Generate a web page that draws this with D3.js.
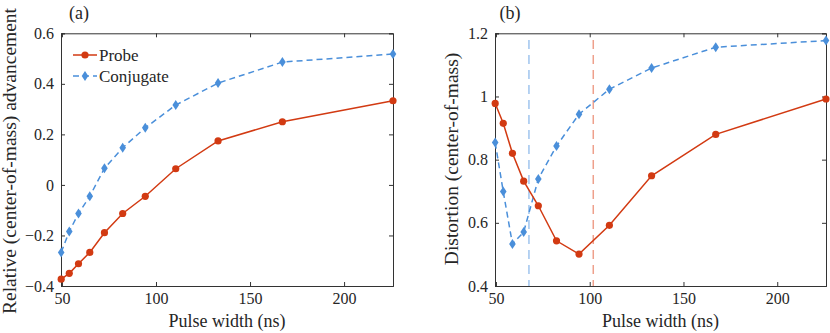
<!DOCTYPE html>
<html>
<head>
<meta charset="utf-8">
<script src="https://cdn.jsdelivr.net/npm/d3@7"></script>
<style>
  body { margin: 0; background: #fff; }
  svg text { font-family: "Liberation Serif", "Times New Roman", Times, serif !important; fill: #262626; }
</style>
</head>
<body>
<svg></svg>
<script>
//Setting
const width = 830;
const height = 333;

//Data
const pulseWidth = [49.6, 53.9, 58.8, 64.8, 72.6, 82.3, 94.3, 110.5, 133, 167.2, 226];
const advProbe = [-0.373, -0.350, -0.312, -0.267, -0.189, -0.113, -0.045, 0.064, 0.174, 0.250, 0.333];
const advConj = [-0.267, -0.184, -0.113, -0.045, 0.066, 0.147, 0.226, 0.316, 0.403, 0.486, 0.518];
const distProbe = [0.978, 0.915, 0.820, 0.732, 0.654, 0.543, 0.501, 0.592, 0.749, 0.880, 0.992];
const distConj = [0.854, 0.699, 0.533, 0.571, 0.739, 0.843, 0.944, 1.023, 1.090, 1.156, 1.177];
const markLines = [{x: 67.6, color: "#9fc4ee"}, {x: 101.9, color: "#eea08c"}];
const xTicks = [50, 100, 150, 200];
const advTicks = [-0.4, -0.2, 0, 0.2, 0.4, 0.6];
const distTicks = [0.4, 0.6, 0.8, 1, 1.2];

const red = "#d23a12";
const blue = "#4a8fda";
const serif = '"Liberation Serif", "Times New Roman", Times, serif';

const svg = d3.select("svg")
            .attr("width", width)
            .attr("height", height)
            .attr("font-family", serif)

function panel(opt) {
  const x = d3.scaleLinear().domain([49.5, 226]).range([opt.left, opt.right]);
  const y = d3.scaleLinear().domain(opt.ydomain).range([286, 33.3]);
  const g = svg.append("g");

  // vertical marker lines
  (opt.marks || []).forEach(m => {
    g.append("line")
      .attr("x1", x(m.x)).attr("x2", x(m.x))
      .attr("y1", 40).attr("y2", 286)
      .attr("stroke", m.color).attr("stroke-width", 1.5)
      .attr("stroke-dasharray", "9,6");
  });

  // axes, inward ticks on all four sides
  const fmt = d => d === 0 ? "0" : d3.format("")(d);
  const axes = [
    [d3.axisBottom(x).tickValues(xTicks).tickSize(-4).tickPadding(7).tickFormat(fmt), 286, 0],
    [d3.axisTop(x).tickValues(xTicks).tickSize(-4).tickFormat(""), 33.3, 0],
    [d3.axisLeft(y).tickValues(opt.yticks).tickSize(-4).tickPadding(7).tickFormat(fmt), 0, opt.left],
    [d3.axisRight(y).tickValues(opt.yticks).tickSize(-4).tickFormat(""), 0, opt.right]
  ];
  axes.forEach(([ax, ty, tx]) => {
    const a = g.append("g").attr("transform", `translate(${tx},${ty})`).call(ax)
      .attr("font-family", serif);
    a.select(".domain").attr("stroke", "#333").attr("stroke-width", 1);
    a.selectAll(".tick line").attr("stroke", "#333");
    a.selectAll("text").style("font-size", "16px").attr("fill", "#262626");
  });

  const line = d3.line().x((d, i) => x(pulseWidth[i])).y(d => y(d));

  g.append("path").datum(opt.conj)
    .attr("d", line).attr("fill", "none").attr("stroke", blue)
    .attr("stroke-width", 1.5).attr("stroke-dasharray", "6,4");
  g.append("path").datum(opt.probe)
    .attr("d", line).attr("fill", "none").attr("stroke", red)
    .attr("stroke-width", 1.5);

  g.selectAll(".dia").data(opt.conj).enter().append("path")
    .attr("transform", (d, i) => `translate(${x(pulseWidth[i])},${y(d)})`)
    .attr("d", "M0,-5L3.3,0L0,5L-3.3,0Z")
    .attr("fill", blue);
  g.selectAll(".dot").data(opt.probe).enter().append("circle")
    .attr("cx", (d, i) => x(pulseWidth[i])).attr("cy", d => y(d))
    .attr("r", 3.6).attr("fill", red);

  // labels
  g.append("text").attr("x", (opt.left + opt.right) / 2).attr("y", 327)
    .attr("text-anchor", "middle").style("font-size", "18px").text("Pulse width (ns)");
  g.append("text")
    .attr("transform", `translate(${opt.ylabelX},${opt.ylabelY}) rotate(-90)`)
    .attr("text-anchor", "middle").attr("dy", "0.35em")
    .style("font-size", "19.5px").text(opt.ylabel);
  g.append("text").attr("x", opt.tagX).attr("y", 19)
    .attr("text-anchor", "middle").style("font-size", "18px").text(opt.tag);
}

panel({left: 61, right: 393, ydomain: [-0.4, 0.6], yticks: advTicks,
       probe: advProbe, conj: advConj, ylabel: "Relative (center-of-mass) advancement",
       ylabelX: 9, ylabelY: 161, tag: "(a)", tagX: 79});
panel({left: 495, right: 826, ydomain: [0.4, 1.2], yticks: distTicks,
       probe: distProbe, conj: distConj, marks: markLines,
       ylabel: "Distortion (center-of-mass)", ylabelX: 451, ylabelY: 159, tag: "(b)", tagX: 510});

// legend
const legend = svg.append("g");
const legendItems = [
  {name: "Probe", color: red, dash: null, marker: "circle"},
  {name: "Conjugate", color: blue, dash: "6,4", marker: "diamond"}
];
legendItems.forEach((d, i) => {
  const ly = 55 + i * 21;
  legend.append("line").attr("x1", 73).attr("x2", 97).attr("y1", ly).attr("y2", ly)
    .attr("stroke", d.color).attr("stroke-width", 1.5).attr("stroke-dasharray", d.dash);
  if (d.marker === "circle") {
    legend.append("circle").attr("cx", 85).attr("cy", ly).attr("r", 3.6).attr("fill", d.color);
  } else {
    legend.append("path").attr("transform", `translate(85,${ly})`)
      .attr("d", "M0,-5L3.3,0L0,5L-3.3,0Z").attr("fill", d.color);
  }
  legend.append("text").attr("x", 99).attr("y", ly).attr("dy", "0.35em")
    .style("font-size", "17px").text(d.name);
});
</script>
</body>
</html>
